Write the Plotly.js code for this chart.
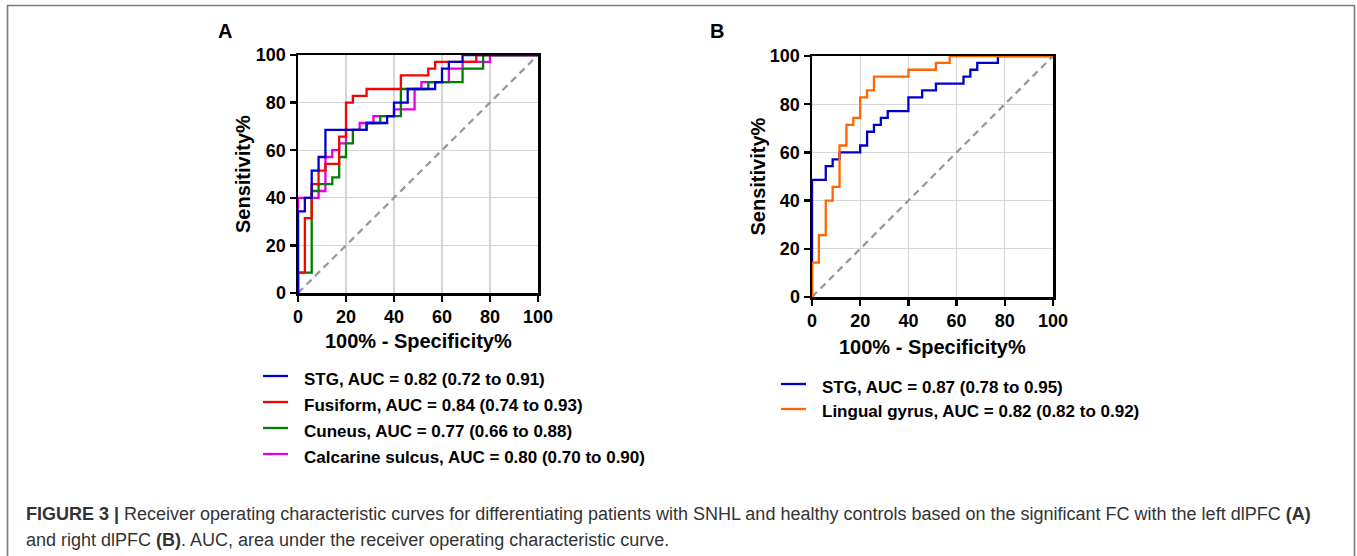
<!DOCTYPE html>
<html>
<head>
<meta charset="utf-8">
<script src="https://cdn.plot.ly/plotly-3.0.1.min.js"></script>
<style>html,body{margin:0;padding:0;background:#fff;}#chart{width:1357px;height:556px;}</style>
</head>
<body>
<div id="chart"></div>
<script>
// ---------- data (100% - specificity %, sensitivity %) ----------
// Panel A (left dlPFC)
const stgA_x = [0, 2.86, 5.71, 8.57, 11.43, 28.57, 37.14, 40, 45.71, 57.14, 60, 62.86, 68.57, 100];
const stgA_y = [0, 34.29, 40, 51.43, 57.14, 68.57, 71.43, 74.29, 80, 85.71, 88.57, 94.29, 97.14, 100];
const fusiformA_x = [0, 2.86, 5.71, 8.57, 11.43, 17.14, 20, 22.86, 28.57, 42.86, 54.29, 57.14, 74.29, 100];
const fusiformA_y = [0, 8.57, 31.43, 45.71, 51.43, 54.29, 65.71, 80, 82.86, 85.71, 91.43, 94.29, 97.14, 100];
const cuneusA_x = [0, 5.71, 8.57, 14.29, 17.14, 20, 22.86, 28.57, 34.29, 42.86, 54.29, 68.57, 77.14, 100];
const cuneusA_y = [0, 8.57, 42.86, 45.71, 48.57, 57.14, 62.86, 68.57, 71.43, 74.29, 85.71, 88.57, 94.29, 100];
const calcarineA_x = [0, 8.57, 11.43, 14.29, 17.14, 20, 25.71, 31.43, 40, 48.57, 51.43, 62.86, 68.57, 80, 100];
const calcarineA_y = [0, 40, 42.86, 57.14, 60, 62.86, 68.57, 71.43, 74.29, 77.14, 85.71, 88.57, 94.29, 97.14, 100];
// Panel B (right dlPFC)
const stgB_x = [0, 5.71, 8.57, 11.43, 20, 22.86, 25.71, 28.57, 31.43, 40, 45.71, 51.43, 62.86, 65.71, 68.57, 77.14, 100];
const stgB_y = [0, 48.57, 54.29, 57.14, 60, 62.86, 68.57, 71.43, 74.29, 77.14, 82.86, 85.71, 88.57, 91.43, 94.29, 97.14, 100];
const lingualB_x = [0, 2.86, 5.71, 8.57, 11.43, 14.29, 17.14, 20, 22.86, 25.71, 40, 51.43, 57.14, 100];
const lingualB_y = [0, 14.29, 25.71, 40, 45.71, 62.86, 71.43, 74.29, 82.86, 85.71, 91.43, 94.29, 97.14, 100];
// reference line
const diag_x = [0, 100];
const diag_y = [0, 100];

const legendA = ["STG, AUC = 0.82 (0.72 to 0.91)", "Fusiform, AUC = 0.84 (0.74 to 0.93)", "Cuneus, AUC = 0.77 (0.66 to 0.88)", "Calcarine sulcus, AUC = 0.80 (0.70 to 0.90)"];
const legendB = ["STG, AUC = 0.87 (0.78 to 0.95)", "Lingual gyrus, AUC = 0.82 (0.82 to 0.92)"];
const tickVals = [0, 20, 40, 60, 80, 100];
const tickText = ["0", "20", "40", "60", "80", "100"];
const xTitle = "100% - Specificity%";
const yTitle = "Sensitivity%";
const panelLabels = ["A", "B"];
const captionLines = [
  "<b>FIGURE 3 |</b> Receiver operating characteristic curves for differentiating patients with SNHL and healthy controls based on the significant FC with the left dlPFC <b>(A)</b>",
  "and right dlPFC <b>(B)</b>. AUC, area under the receiver operating characteristic curve."
];

// ---------- layout helpers ----------
const W = 1357, H = 556;
const px = v => v / W;
const py = v => 1 - v / H;
const FONT = "Liberation Sans, Arial, Helvetica, sans-serif";

const colA = ["#0000CC", "#FF0000", "#008000", "#E000E0"];
const colB = ["#0000CC", "#FF6600"];
const LW = 2.3;

function roc(x, y, color, xa, ya) {
  return {x: x, y: y, xaxis: xa, yaxis: ya, type: "scatter", mode: "lines",
          line: {color: color, width: LW, shape: "vh"}, hoverinfo: "skip", showlegend: false};
}
function diag(xa, ya) {
  return {x: diag_x, y: diag_y, xaxis: xa, yaxis: ya, type: "scatter", mode: "lines",
          line: {color: "#9a9a9a", width: 2.3, dash: "7px,5px"}, hoverinfo: "skip", showlegend: false};
}

const traces = [
  diag("x", "y"),
  roc(calcarineA_x, calcarineA_y, colA[3], "x", "y"),
  roc(cuneusA_x, cuneusA_y, colA[2], "x", "y"),
  roc(fusiformA_x, fusiformA_y, colA[1], "x", "y"),
  roc(stgA_x, stgA_y, colA[0], "x", "y"),
  diag("x2", "y2"),
  roc(stgB_x, stgB_y, colB[0], "x2", "y2"),
  roc(lingualB_x, lingualB_y, colB[1], "x2", "y2")
];

function axis(domain, anchor) {
  return {domain: domain, anchor: anchor, range: [0, 100], tickmode: "array",
          tickvals: tickVals, ticktext: tickText, ticks: "outside", ticklen: 6, tickwidth: 2.3,
          tickcolor: "#000", showline: true, linecolor: "#000", linewidth: 2.5, mirror: true,
          showgrid: true, gridcolor: "#d6d6d6", gridwidth: 1.3, zeroline: false, fixedrange: true,
          tickfont: {family: FONT, size: 18, color: "#000", weight: "bold"}};
}

const plotA = {l: 298, r: 538, t: 55, b: 293};
const plotB = {l: 812, r: 1053, t: 56, b: 297};

const annotations = [];
const shapes = [];
function txt(text, x, y, opts) {
  annotations.push(Object.assign({text: text, x: px(x), y: py(y), xref: "paper", yref: "paper",
    showarrow: false, xanchor: "center", yanchor: "middle",
    font: {family: FONT, size: 20, color: "#000", weight: "bold"}}, opts || {}));
}
// panel labels
txt(panelLabels[0], 225, 31, {font: {family: FONT, size: 20, color: "#000", weight: "bold"}});
txt(panelLabels[1], 717, 31, {font: {family: FONT, size: 20, color: "#000", weight: "bold"}});
// axis titles
txt(xTitle, (plotA.l + plotA.r) / 2, 341);
txt(xTitle, (plotB.l + plotB.r) / 2, 347);
txt(yTitle, 243, (plotA.t + plotA.b) / 2, {textangle: -90});
txt(yTitle, 757, (plotB.t + plotB.b) / 2, {textangle: -90});

// legends
function legend(labels, colors, lineX0, lineX1, textX, ys) {
  labels.forEach((lab, i) => {
    shapes.push({type: "line", xref: "paper", yref: "paper", x0: px(lineX0), x1: px(lineX1),
      y0: py(ys[i] - 2), y1: py(ys[i] - 2), line: {color: colors[i], width: 2.3}});
    txt(lab, textX, ys[i] + 1, {xanchor: "left", font: {family: FONT, size: 17, color: "#000", weight: "bold"}});
  });
}
legend(legendA, colA, 263, 288, 302, [378, 404, 430, 456]);
legend(legendB, colB, 781, 806, 820, [386, 411]);

// caption
txt(captionLines[0], 24, 514, {xanchor: "left", font: {family: FONT, size: 18, color: "#333"}});
txt(captionLines[1], 24, 540, {xanchor: "left", font: {family: FONT, size: 18, color: "#333"}});

// outer frame
shapes.push({type: "rect", xref: "paper", yref: "paper", x0: px(7.5), x1: px(1354.5), y0: py(5.5), y1: py(620),
  line: {color: "#7a7a7a", width: 1.6}, fillcolor: "rgba(0,0,0,0)", layer: "below"});

const layout = {
  width: W, height: H, margin: {l: 0, r: 0, t: 0, b: 0},
  paper_bgcolor: "#fff", plot_bgcolor: "#fff", showlegend: false,
  xaxis: axis([px(plotA.l), px(plotA.r)], "y"),
  yaxis: axis([py(plotA.b), py(plotA.t)], "x"),
  xaxis2: axis([px(plotB.l), px(plotB.r)], "y2"),
  yaxis2: axis([py(plotB.b), py(plotB.t)], "x2"),
  annotations: annotations, shapes: shapes
};

Plotly.newPlot("chart", traces, layout, {displayModeBar: false, staticPlot: true});
</script>
</body>
</html>
